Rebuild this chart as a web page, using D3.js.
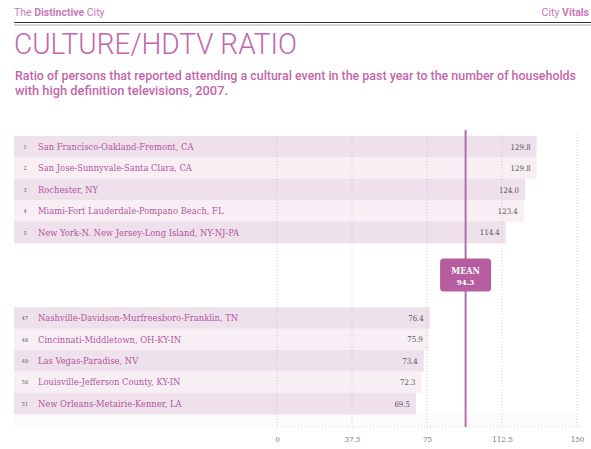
<!DOCTYPE html>
<html><head><meta charset="utf-8">
<script src="https://cdn.jsdelivr.net/npm/d3@7"></script>
<style>body{margin:0;background:#fff}svg{display:block}</style>
</head><body>
<svg id="c" width="591" height="449"></svg>
<script>
const ranks = [1,2,3,4,5,47,48,49,50,51];
const metros = [
  "San Francisco-Oakland-Fremont, CA",
  "San Jose-Sunnyvale-Santa Clara, CA",
  "Rochester, NY",
  "Miami-Fort Lauderdale-Pompano Beach, FL",
  "New York-N. New Jersey-Long Island, NY-NJ-PA",
  "Nashville-Davidson-Murfreesboro-Franklin, TN",
  "Cincinnati-Middletown,  OH-KY-IN",
  "Las Vegas-Paradise, NV",
  "Louisville-Jefferson County, KY-IN",
  "New Orleans-Metairie-Kenner, LA"
];
const values = [129.8,129.8,124.0,123.4,114.4,76.4,75.9,73.4,72.3,69.5];
const meanValue = 94.3;
const tickValues = [0,37.5,75,112.5,150];
const tickLabels = ["0","37.5","75","112.5","150"];
const slots = ["1","2","3","4","5","g1","g2","g3","47","48","49","50","51"];

const svg = d3.select("#c");
const pink = "#c266ab";
const x = d3.scaleLinear().domain([0,150]).range([277,577]);
const y = d3.scaleBand().domain(slots).range([136,414.2]).padding(0);
const barLeft = 14;

// header
const hdr = svg.append("text").attr("x",14).attr("y",16).attr("font-family","Roboto, sans-serif").attr("font-size",10.5).attr("fill","#c87ab6");
hdr.append("tspan").text("The ");
hdr.append("tspan").attr("font-weight",700).text("Distinctive");
hdr.append("tspan").text(" City");
const hdr2 = svg.append("text").attr("x",589).attr("y",16).attr("text-anchor","end").attr("font-family","Roboto, sans-serif").attr("font-size",10.5).attr("fill","#c87ab6");
hdr2.append("tspan").text("City ");
hdr2.append("tspan").attr("font-weight",700).text("Vitals");
svg.append("line").attr("x1",14).attr("x2",591).attr("y1",22.5).attr("y2",22.5).attr("stroke","#333").attr("stroke-width",1.2);
svg.append("line").attr("x1",14).attr("x2",591).attr("y1",25).attr("y2",25).attr("stroke","#999").attr("stroke-width",0.8);

// title
svg.append("text").attr("x",14).attr("y",54).attr("font-family","Roboto, sans-serif").attr("font-weight",300)
  .attr("font-size",29.5).attr("fill",pink).attr("textLength",283).attr("lengthAdjust","spacingAndGlyphs")
  .text("CULTURE/HDTV RATIO");
svg.append("text").attr("x",15).attr("y",79.5).attr("font-family","Roboto, sans-serif").attr("font-weight",500)
  .attr("font-size",12.5).attr("fill",pink).attr("textLength",561).attr("lengthAdjust","spacingAndGlyphs")
  .text("Ratio of persons that reported attending a cultural event in the past year to the number of households");
svg.append("text").attr("x",15).attr("y",95).attr("font-family","Roboto, sans-serif").attr("font-weight",500)
  .attr("font-size",12.5).attr("fill",pink).attr("textLength",213).attr("lengthAdjust","spacingAndGlyphs")
  .text("with high definition televisions, 2007.");

// faint trailing row
svg.append("rect").attr("x",barLeft).attr("y",y.range()[1]).attr("width",x(150)-barLeft).attr("height",12).attr("fill","#fdfafc");

const rows = ranks.map((r,i)=>({rank:r,name:metros[i],value:values[i],i}));

// bars
svg.append("g").selectAll("rect").data(rows).join("rect")
  .attr("x",barLeft).attr("y",d=>y(String(d.rank))).attr("height",y.bandwidth()+0.3)
  .attr("width",d=>x(d.value)-barLeft)
  .attr("fill",d=>d.rank%2===1?"#eee1eb":"#f8eff5");

// gridlines
svg.append("g").selectAll("line").data(tickValues).join("line")
  .attr("x1",d=>x(d)).attr("x2",d=>x(d)).attr("y1",134).attr("y2",427)
  .attr("stroke","#d9b9d0").attr("stroke-width",0.8).attr("stroke-dasharray","1,2");
svg.append("line").attr("x1",x(0)).attr("x2",x(150)+4).attr("y1",427).attr("y2",427)
  .attr("stroke","#d9b9d0").attr("stroke-width",0.8).attr("stroke-dasharray","1,2");

// axis labels
const axis = d3.axisBottom(x).tickValues(tickValues).tickFormat((d,i)=>tickLabels[i]).tickSize(0).tickPadding(0);
const ag = svg.append("g").attr("transform","translate(0,436)").call(axis);
ag.select(".domain").remove();
ag.selectAll("text").attr("font-family","'DejaVu Serif Condensed', serif").attr("font-size",8).attr("fill","#777");

// rank numbers
svg.append("g").selectAll("text").data(rows).join("text")
  .attr("x",25).attr("y",d=>y(String(d.rank))+y.bandwidth()/2+2.2).attr("text-anchor","middle")
  .attr("font-family","'DejaVu Serif Condensed', serif").attr("font-size",5.5).attr("fill","#555")
  .text(d=>d.rank);
// names
svg.append("g").selectAll("text").data(rows).join("text")
  .attr("x",38).attr("y",d=>y(String(d.rank))+y.bandwidth()/2+3.2)
  .attr("font-family","'DejaVu Serif Condensed', serif").attr("font-size",9.3).attr("fill","#b4559f")
  .text(d=>d.name);
// values
svg.append("g").selectAll("text").data(rows).join("text")
  .attr("x",d=>x(d.value)-6).attr("y",d=>y(String(d.rank))+y.bandwidth()/2+3).attr("text-anchor","end")
  .attr("font-family","'DejaVu Serif Condensed', serif").attr("font-size",7.8).attr("fill","#555")
  .text(d=>d.value.toFixed(1));

// mean line
const mx = x(meanValue);
svg.append("line").attr("x1",mx).attr("x2",mx).attr("y1",130).attr("y2",427).attr("stroke","#b46fa9").attr("stroke-width",2);
const gy0 = y("g1"), gy1 = y("g3")+y.bandwidth();
const cy = (gy0+gy1)/2;
svg.append("rect").attr("x",mx-25.5).attr("y",cy-16.5).attr("width",51).attr("height",33).attr("rx",3.5)
  .attr("fill","#b65d9f");
svg.append("text").attr("x",mx).attr("y",cy-1).attr("text-anchor","middle").attr("font-family","'DejaVu Serif Condensed', serif")
  .attr("font-weight",700).attr("font-size",9).attr("fill","#fff").text("MEAN");
svg.append("text").attr("x",mx).attr("y",cy+10).attr("text-anchor","middle").attr("font-family","'DejaVu Serif Condensed', serif")
  .attr("font-weight",700).attr("font-size",8).attr("fill","#fff").text(meanValue.toFixed(1));
</script>
</body></html>
